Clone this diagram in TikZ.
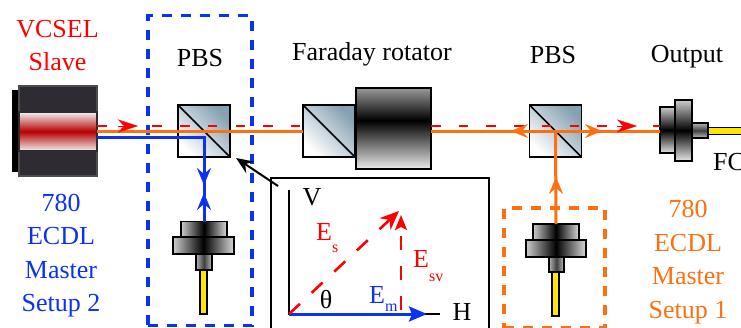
\documentclass[tikz,border=0pt]{standalone}
\usepackage{fontspec}
\setmainfont{Liberation Serif}
\usepackage{tikz}
\usetikzlibrary{arrows.meta,calc,positioning}
\definecolor{w_red}{HTML}{FF0000}
\definecolor{w_blue}{HTML}{0A32F0}
\definecolor{w_orange}{HTML}{FF6F10}
\definecolor{w_steel}{HTML}{84A0B2}
\definecolor{w_body}{HTML}{2E2B33}
\definecolor{w_laser}{HTML}{B80000}
\definecolor{w_yellow}{HTML}{FFE600}
\pgfdeclareverticalshading{magnetshade}{100bp}{color(0bp)=(black!8); color(25bp)=(black!8); color(55bp)=(black); color(75bp)=(black!40); color(100bp)=(black!40)}
\tikzstyle{label} = [font=\fontsize{26}{33.5}\selectfont, inner sep=0pt]
\tikzstyle{part} = [rectangle, draw=black, line width=1.7pt, inner sep=0pt, outer sep=0pt]
\tikzstyle{cube} = [part, bottom color=white, top color=w_steel, shading angle=-45,
	minimum width=52pt, minimum height=52pt]
\tikzstyle{magnet} = [part, shading=magnetshade]
\tikzstyle{vpart} = [part, left color=black!20, right color=black!15, middle color=black]
\tikzstyle{hpart} = [part, top color=black!20, bottom color=black!10, middle color=black]
\tikzstyle{neck} = [part, left color=black!30, right color=black!25, middle color=black!75]
\tikzstyle{neckh} = [part, top color=black!30, bottom color=black!25, middle color=black!75]
\tikzstyle{fiber} = [part, fill=w_yellow]
\tikzstyle{setupbox} = [rectangle, line width=3.3pt, dash pattern=on 10pt off 9pt, inner sep=0pt]
\tikzstyle{beam} = [line width=3pt]
\tikzstyle{slavebeam} = [w_red, line width=2.8pt, dash pattern=on 9.5pt off 18.2pt]
\tikzstyle{beamtip} = [-{Stealth[length=17pt,width=14pt,inset=6pt]}]
\begin{document}
\begin{tikzpicture}[x=1pt,y=-1pt]
	\useasboundingbox (0,0) rectangle (741,327);

	% dashed setups
	\node[setupbox, draw=w_blue, minimum width=104pt, minimum height=310pt] (setuptwo) at (200,170.5) {};
	\node[setupbox, draw=w_orange, minimum width=101pt, minimum height=120pt] (setupone) at (554.5,268) {};

	% slave laser
	\node[part, fill=black, draw=black, minimum width=7pt, minimum height=80pt] (slaveback) at (16,131) {};
	\node[part, fill=w_body, draw=black!70, minimum width=78pt, minimum height=90pt] (slave) at (58,131) {};
	\node[part, draw=w_body, top color=black!5, bottom color=black!5, middle color=w_laser, minimum width=78pt, minimum height=39pt] (slavelaser) at (58,131.5) {};

	% cubes and rotator
	\node[cube] (pbsone) at (204,131) {};
	\node[cube] (rotcube) at (329,131) {};
	\node[magnet, minimum width=75pt, minimum height=81pt] (rotator) at (393.5,128.5) {};
	\node[cube] (pbstwo) at (555.5,131) {};
	\draw[line width=1.7pt] (pbsone.north west) -- (pbsone.south east);
	\draw[line width=1.7pt] (rotcube.north west) -- (rotcube.south east);
	\draw[line width=1.7pt] (pbstwo.north west) -- (pbstwo.south east);

	% fibre couplers
	\node[fiber, minimum width=7pt, minimum height=44pt] (fibertwo) at (203.5,292) {};
	\node[neck, minimum width=16pt, minimum height=16pt] (necktwo) at (204,262) {};
	\node[vpart, minimum width=46pt, minimum height=16pt] (toptwo) at (204,229.5) {};
	\node[vpart, minimum width=61pt, minimum height=17pt] (flangetwo) at (203.5,245.5) {};
	\node[fiber, minimum width=7pt, minimum height=44pt] (fiberone) at (555.5,294) {};
	\node[neck, minimum width=15pt, minimum height=15pt] (neckone) at (556.5,264.5) {};
	\node[vpart, minimum width=46pt, minimum height=16pt] (topone) at (556,232) {};
	\node[vpart, minimum width=60pt, minimum height=17pt] (flangeone) at (556,248.5) {};
	\node[fiber, minimum width=38pt, minimum height=7pt] (fiberout) at (727,131) {};
	\node[neckh, minimum width=16pt, minimum height=15pt] (neckout) at (700,130.5) {};
	\node[hpart, minimum width=16pt, minimum height=46pt] (topout) at (668,130) {};
	\node[hpart, minimum width=17pt, minimum height=61pt] (flangeout) at (683.5,130.5) {};

	% beams
	\coordinate (redstart) at (97,126);
	\coordinate (redrotcube) at (302,126);
	\coordinate (redrotator) at (431,126);
	\coordinate (redout) at (660,126);
	\coordinate (blueout) at (97,137);
	\draw[beam, w_orange] (slave.east) -- (rotcube.west);
	\draw[beam, w_orange] (rotator.east |- slave.east) -- (topout.west |- slave.east);
	\draw[beam, w_orange] (topone.north) -- (pbstwo.center);
	\draw[beam, w_blue] (blueout) -| (toptwo.north);
	\draw[slavebeam] (redstart) -- (redrotcube);
	\draw[slavebeam] (redrotator) -- (redout);

	% arrow heads on the beams
	\draw[w_red, line width=0.4pt, -{Stealth[length=20pt,width=13pt,inset=6pt]}] (118,126) -- (138,126);
	\draw[w_red, line width=0.4pt, -{Stealth[length=20pt,width=13pt,inset=6pt]}] (617,126) -- (637,126);
	\draw[beamtip, w_blue] (204,168) -- (204,185);
	\draw[beamtip, w_blue] (204,212) -- (204,193);
	\draw[beamtip, w_orange] (530,131) -- (511,131);
	\draw[beamtip, w_orange] (583,131) -- (602,131);
	\draw[beamtip, w_orange] (556,196) -- (556,177);

	% inset
	\node[part, line width=2.2pt, minimum width=218pt, minimum height=170pt] (inset) at (380,263) {};
	\coordinate (pointer) at (278,186);
	\coordinate (pointertip) at (236,158);
	\draw[line width=2pt, -{Stealth[length=17pt,width=14pt,inset=6pt]}] (pointer) -- (pointertip);
	\coordinate (origin) at (289,314);
	\coordinate (vtop) at (289,190);
	\coordinate (hend) at (440,314);
	\coordinate (bluetip) at (427,314);
	\coordinate (estip) at (399,211);
	\coordinate (esvstart) at (401,310);
	\coordinate (esvtip) at (401,215);
	\draw[line width=2pt] (vtop) -- (origin) -- (hend);
	\draw[w_blue, line width=3pt, -{Stealth[length=18pt,width=15pt,inset=3pt]}] (origin) -- (bluetip);
	\draw[w_red, line width=2.6pt, dash pattern=on 15pt off 16pt, -{Stealth[length=19pt,width=16pt,inset=6pt]}] (origin) -- (estip);
	\draw[w_red, line width=2.4pt, dash pattern=on 14pt off 16pt, -{Stealth[length=15pt,width=12pt,inset=3pt]}] (esvstart) -- (esvtip);

	% labels
	\node[label, w_red] (slavetext) at (57.5,47.3) {\begin{tabular}{@{}c@{}} VCSEL \\ Slave \end{tabular}};
	\node[label, w_blue] (mastertwotext) at (61,254.8) {\begin{tabular}{@{}c@{}} 780 \\ ECDL \\ Master \\ Setup 2 \end{tabular}};
	\node[label, w_orange] (masteronetext) at (688,261.3) {\begin{tabular}{@{}c@{}} 780 \\ ECDL \\ Master \\ Setup 1 \end{tabular}};
	\node[label, anchor=base] (pbsonetext) at (200,66) {PBS};
	\node[label, anchor=base] (rotatortext) at (372,60) {Faraday rotator};
	\node[label, anchor=base] (pbstwotext) at (553,63) {PBS};
	\node[label, anchor=base] (outputtext) at (687,62) {Output};
	\node[label, anchor=base west] (fctext) at (713,170) {FC};
	\node[label, anchor=base] (vtext) at (312,205) {V};
	\node[label, anchor=base] (htext) at (462,320) {H};
	\node[label, anchor=base] (thetatext) at (326,308) {θ};
	\node[label, w_red, anchor=base west] (estext) at (316,240) {E\raisebox{-12pt}{\fontsize{16}{16}\selectfont s}};
	\node[label, w_red, anchor=base west] (esvtext) at (413,267) {E\raisebox{-14pt}{\fontsize{16}{16}\selectfont sv}};
	\node[label, w_blue, anchor=base west] (emtext) at (369,303) {E\raisebox{-8pt}{\fontsize{16}{16}\selectfont m}};
\end{tikzpicture}
\end{document}
